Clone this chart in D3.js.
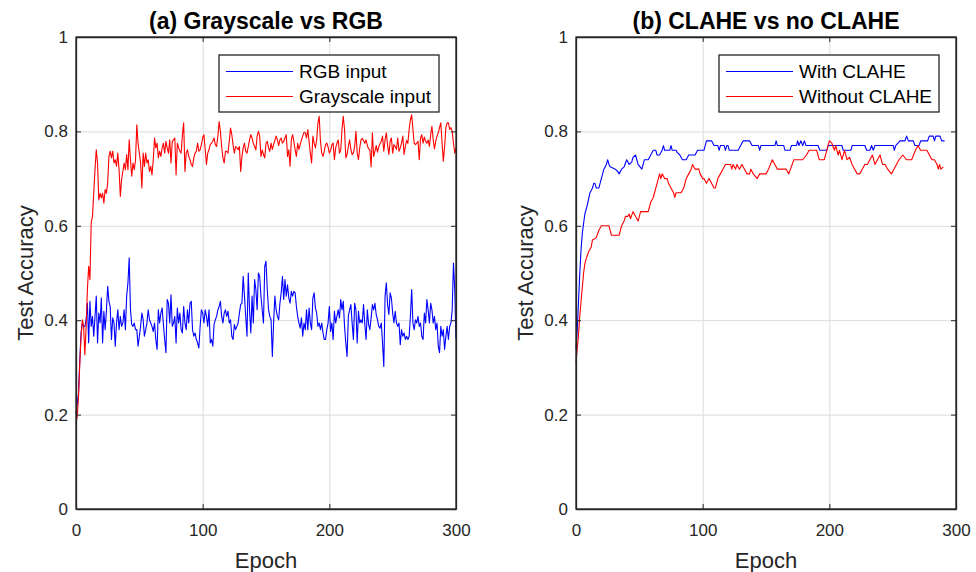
<!DOCTYPE html>
<html>
<head>
<meta charset="utf-8">
<script src="https://cdn.jsdelivr.net/npm/d3@7"></script>
<style>
  body { margin: 0; background: #fff; }
  svg text { font-family: "Liberation Sans", Arial, Helvetica, sans-serif; }
</style>
</head>
<body>
<div id="chart"></div>
<script>
// tick labels
const xTicks = [0, 100, 200, 300];
const yTicks = [0, 0.2, 0.4, 0.6, 0.8, 1];

// panel (a): test accuracy per epoch, epoch = index (0..300)
const rgbInput = [
  0.200,0.225,0.246,0.316,0.373,0.394,0.387,0.387,0.401,0.436,0.352,0.440,0.387,0.408,0.366,0.408,
  0.451,0.352,0.415,0.394,0.447,0.352,0.419,0.380,0.419,0.472,0.440,0.429,0.359,0.405,0.394,0.345,
  0.394,0.422,0.380,0.408,0.387,0.394,0.422,0.380,0.451,0.479,0.532,0.422,0.391,0.387,0.394,0.380,
  0.380,0.345,0.366,0.387,0.415,0.401,0.366,0.380,0.394,0.422,0.401,0.394,0.387,0.376,0.394,0.359,
  0.338,0.422,0.394,0.415,0.426,0.391,0.359,0.331,0.444,0.436,0.394,0.454,0.387,0.394,0.408,0.352,
  0.426,0.394,0.415,0.380,0.373,0.429,0.394,0.380,0.422,0.394,0.436,0.440,0.380,0.366,0.373,0.359,
  0.352,0.341,0.387,0.422,0.415,0.394,0.422,0.408,0.387,0.422,0.352,0.359,0.345,0.391,0.401,0.408,
  0.422,0.429,0.440,0.408,0.394,0.415,0.422,0.408,0.419,0.394,0.401,0.366,0.359,0.391,0.380,0.387,
  0.394,0.415,0.433,0.436,0.493,0.451,0.408,0.366,0.500,0.422,0.373,0.451,0.394,0.486,0.465,0.422,
  0.500,0.493,0.451,0.422,0.394,0.514,0.525,0.465,0.422,0.408,0.401,0.323,0.394,0.451,0.422,0.408,
  0.401,0.436,0.458,0.493,0.444,0.486,0.451,0.475,0.447,0.436,0.461,0.451,0.461,0.458,0.429,0.408,
  0.394,0.383,0.405,0.366,0.394,0.380,0.422,0.380,0.426,0.394,0.380,0.447,0.458,0.426,0.415,0.387,
  0.394,0.380,0.394,0.373,0.359,0.359,0.380,0.394,0.429,0.376,0.394,0.359,0.419,0.394,0.408,0.422,
  0.405,0.444,0.422,0.440,0.387,0.352,0.323,0.408,0.422,0.433,0.394,0.359,0.436,0.422,0.352,0.419,
  0.394,0.401,0.394,0.433,0.391,0.359,0.422,0.391,0.380,0.405,0.433,0.422,0.436,0.412,0.401,0.387,
  0.383,0.394,0.352,0.302,0.451,0.479,0.433,0.412,0.458,0.447,0.415,0.394,0.419,0.394,0.387,0.394,
  0.348,0.380,0.366,0.373,0.359,0.366,0.359,0.366,0.408,0.465,0.394,0.380,0.401,0.394,0.408,0.387,
  0.394,0.366,0.359,0.415,0.394,0.444,0.422,0.394,0.436,0.422,0.394,0.408,0.380,0.394,0.345,0.331,
  0.387,0.366,0.380,0.338,0.366,0.387,0.359,0.387,0.394,0.422,0.521,0.465,0.360
];
const grayscaleInput = [
  0.182,0.196,0.239,0.309,0.366,0.401,0.387,0.327,0.387,0.465,0.514,0.486,0.606,0.620,0.669,0.719,
  0.761,0.733,0.655,0.669,0.659,0.669,0.648,0.677,0.669,0.691,0.747,0.758,0.744,0.758,0.733,0.740,
  0.726,0.754,0.719,0.662,0.698,0.715,0.733,0.719,0.751,0.719,0.782,0.740,0.705,0.733,0.719,0.740,
  0.814,0.775,0.754,0.733,0.680,0.754,0.726,0.754,0.733,0.740,0.715,0.726,0.708,0.740,0.786,0.765,
  0.775,0.744,0.758,0.747,0.765,0.775,0.754,0.779,0.765,0.754,0.782,0.733,0.779,0.782,0.786,0.708,
  0.775,0.765,0.758,0.754,0.793,0.818,0.715,0.754,0.761,0.747,0.740,0.730,0.726,0.744,0.754,0.758,
  0.775,0.758,0.761,0.772,0.786,0.793,0.761,0.730,0.754,0.761,0.772,0.775,0.779,0.786,0.772,0.768,
  0.790,0.821,0.800,0.768,0.744,0.733,0.758,0.758,0.754,0.779,0.807,0.793,0.772,0.754,0.768,0.765,
  0.761,0.768,0.715,0.747,0.765,0.775,0.758,0.754,0.768,0.782,0.793,0.786,0.775,0.768,0.761,0.790,
  0.800,0.790,0.747,0.761,0.751,0.744,0.775,0.779,0.765,0.758,0.775,0.762,0.772,0.781,0.790,0.782,
  0.770,0.782,0.786,0.775,0.779,0.786,0.793,0.747,0.761,0.726,0.782,0.793,0.779,0.761,0.747,0.775,
  0.762,0.772,0.782,0.790,0.798,0.797,0.786,0.804,0.779,0.754,0.733,0.790,0.775,0.765,0.782,0.818,
  0.832,0.779,0.754,0.747,0.758,0.772,0.775,0.767,0.754,0.760,0.772,0.775,0.740,0.765,0.775,0.782,
  0.754,0.760,0.804,0.832,0.804,0.744,0.751,0.768,0.782,0.762,0.751,0.754,0.768,0.800,0.754,0.740,
  0.765,0.782,0.785,0.781,0.775,0.782,0.770,0.763,0.761,0.725,0.797,0.747,0.758,0.770,0.756,0.767,
  0.774,0.779,0.790,0.758,0.782,0.797,0.770,0.751,0.779,0.786,0.754,0.772,0.768,0.762,0.786,0.758,
  0.765,0.775,0.790,0.751,0.768,0.781,0.775,0.804,0.825,0.835,0.804,0.775,0.772,0.775,0.779,0.740,
  0.786,0.793,0.775,0.788,0.779,0.775,0.782,0.768,0.793,0.811,0.782,0.763,0.779,0.790,0.797,0.808,
  0.818,0.775,0.737,0.767,0.808,0.818,0.818,0.804,0.808,0.800,0.775,0.754,0.765
];

// panel (b): [epoch, accuracy]
const withClahe = [
  [0,0.34],[1,0.38],[2,0.44],[3,0.50],[4,0.55],[5,0.585],[7,0.625],[9,0.645],[11,0.67],[12,0.675],
  [13,0.68],[14,0.69],[15,0.69],[16,0.68],[18,0.68],[19,0.69],[20,0.70],[22,0.72],[24,0.73],[25,0.74],
  [26,0.73],[27,0.725],[31,0.72],[33,0.715],[34,0.71],[36,0.72],[38,0.725],[40,0.74],[42,0.73],[44,0.735],
  [45,0.745],[47,0.75],[49,0.73],[52,0.72],[54,0.74],[57,0.74],[59,0.75],[61,0.76],[63,0.76],[64,0.75],
  [66,0.75],[68,0.76],[69,0.77],[70,0.76],[74,0.76],[75,0.77],[76,0.76],[79,0.76],[80,0.755],[82,0.75],
  [84,0.74],[87,0.74],[89,0.75],[94,0.75],[96,0.76],[101,0.76],[103,0.78],[107,0.78],[109,0.77],[112,0.77],
  [113,0.76],[114,0.77],[117,0.77],[118,0.76],[119,0.77],[120,0.77],[121,0.76],[128,0.76],[130,0.77],[132,0.78],
  [137,0.78],[139,0.77],[144,0.77],[145,0.76],[146,0.77],[157,0.77],[158,0.78],[159,0.77],[164,0.77],[165,0.76],
  [169,0.76],[170,0.77],[174,0.77],[175,0.78],[176,0.77],[177.5,0.78],[179,0.77],[180.3,0.78],[181.6,0.77],[191,0.77],
  [192.5,0.76],[198,0.76],[199,0.77],[210,0.77],[211,0.76],[217,0.76],[218,0.77],[228,0.77],[229.5,0.76],[232,0.76],
  [233.4,0.77],[234.7,0.76],[236,0.77],[250.5,0.77],[251.3,0.76],[252.4,0.77],[255.8,0.78],[259.7,0.78],[261,0.79],[262.4,0.78],
  [266.3,0.78],[267.6,0.77],[270.8,0.77],[272.1,0.78],[277.6,0.78],[278.9,0.79],[282,0.79],[283,0.78],[284,0.79],[287.4,0.79],
  [288.7,0.78],[291,0.78]
];
const withoutClahe = [
  [0,0.31],[1,0.34],[2,0.37],[3,0.41],[4,0.44],[5,0.47],[6,0.50],[7,0.52],[8,0.53],[10,0.545],
  [12,0.555],[13,0.57],[16,0.575],[18,0.59],[20,0.60],[26,0.60],[28,0.58],[34,0.58],[36,0.60],[38,0.61],
  [39,0.62],[41,0.62],[42,0.625],[43,0.615],[45,0.63],[47,0.62],[49,0.61],[51,0.63],[57,0.63],[59,0.65],
  [61,0.66],[62,0.67],[64,0.69],[66,0.71],[67,0.70],[68,0.71],[70,0.70],[72,0.70],[73,0.69],[75,0.68],
  [77,0.67],[78,0.66],[79,0.67],[83,0.67],[85,0.68],[87,0.70],[89,0.71],[91,0.72],[92,0.73],[94,0.72],
  [97,0.72],[98,0.71],[100,0.70],[101,0.70],[103,0.69],[105,0.70],[107,0.69],[109,0.68],[110,0.68],[112,0.70],
  [114,0.71],[116,0.72],[118,0.73],[120,0.73],[122,0.73],[123,0.72],[124,0.73],[126,0.72],[127,0.73],[129,0.72],
  [131,0.73],[133,0.72],[135,0.71],[137,0.71],[138,0.72],[140,0.71],[143,0.70],[145,0.71],[147,0.71],[150,0.71],
  [152,0.72],[155,0.74],[157,0.73],[159,0.72],[166,0.72],[168,0.71],[172,0.74],[179,0.74],[182,0.75],[184,0.76],
  [186,0.76],[190,0.76],[192,0.74],[196,0.74],[198,0.76],[200,0.78],[202,0.775],[204,0.76],[205,0.77],[207,0.75],
  [208,0.76],[210,0.74],[212,0.76],[214,0.74],[216,0.745],[218,0.73],[220,0.72],[222,0.71],[224,0.71],[226,0.72],
  [228,0.73],[230,0.73],[232,0.74],[234,0.75],[236,0.73],[238,0.74],[240,0.75],[242,0.73],[244,0.73],[246,0.72],
  [249,0.71],[251,0.72],[253,0.73],[255,0.74],[258,0.75],[261,0.74],[265,0.74],[268,0.76],[270,0.77],[272,0.76],
  [277,0.76],[279,0.75],[281,0.74],[283,0.74],[285,0.73],[286,0.72],[287,0.73],[288,0.72],[290,0.725]
];

const svg = d3.select('#chart')
              .append('svg')
              .attr('width', 976)
              .attr('height', 572);

const boxW = 380, boxH = 472;

function drawPanel(left, title, series, legendNames) {
  let g = svg.append('g')
             .attr('transform', 'translate(' + left + ',' + 37 + ')');

  let x = d3.scaleLinear().domain([0, 300]).range([0, boxW]);
  let y = d3.scaleLinear().domain([0, 1]).range([boxH, 0]);

  // grid
  g.append('g')
   .attr('transform', 'translate(0,' + boxH + ')')
   .call(d3.axisBottom(x).tickValues(xTicks).tickSize(-boxH).tickFormat(''))
   .call(a => a.select('.domain').remove())
   .selectAll('line').attr('stroke', '#dcdcdc');
  g.append('g')
   .call(d3.axisLeft(y).tickValues(yTicks).tickSize(-boxW).tickFormat(''))
   .call(a => a.select('.domain').remove())
   .selectAll('line').attr('stroke', '#dcdcdc');

  // lines
  let line = d3.line()
               .x(d => x(d[0]))
               .y(d => y(d[1]));
  series.forEach(s => {
    g.append('path')
     .datum(s.values)
     .attr('fill', 'none')
     .attr('stroke', s.color)
     .attr('stroke-width', 1.1)
     .attr('stroke-linejoin', 'round')
     .attr('d', line);
  });

  // axes, MATLAB style inward ticks
  let xb = g.append('g')
            .attr('transform', 'translate(0,' + boxH + ')')
            .call(d3.axisBottom(x).tickValues(xTicks).tickSizeInner(-5).tickSizeOuter(0).tickPadding(15).tickFormat(d => d));
  let yl = g.append('g')
            .call(d3.axisLeft(y).tickValues(yTicks).tickSizeInner(-5).tickSizeOuter(0).tickPadding(8).tickFormat(d => d));
  g.append('g')
   .call(d3.axisTop(x).tickValues(xTicks).tickSizeInner(-5).tickSizeOuter(0).tickFormat(''));
  g.append('g')
   .attr('transform', 'translate(' + boxW + ',0)')
   .call(d3.axisRight(y).tickValues(yTicks).tickSizeInner(-5).tickSizeOuter(0).tickFormat(''));
  g.selectAll('.domain').attr('stroke', '#262626').attr('stroke-width', 1.3);
  g.selectAll('.tick line').filter(function () { return d3.select(this).attr('stroke') !== '#dcdcdc'; })
   .attr('stroke', '#262626');
  [xb, yl].forEach(a => a.selectAll('text')
                          .attr('font-size', 17)
                          .attr('fill', '#262626'));

  g.append('rect')
   .attr('width', boxW)
   .attr('height', boxH)
   .attr('fill', 'none')
   .attr('stroke', '#262626')
   .attr('stroke-width', 1.3);

  // labels
  g.append('text')
   .attr('x', boxW / 2)
   .attr('y', -8)
   .attr('text-anchor', 'middle')
   .attr('font-size', 23)
   .attr('font-weight', 'bold')
   .attr('fill', '#000')
   .text(title);
  g.append('text')
   .attr('x', boxW / 2)
   .attr('y', boxH + 59)
   .attr('text-anchor', 'middle')
   .attr('font-size', 22)
   .attr('fill', '#262626')
   .text('Epoch');
  g.append('text')
   .attr('transform', 'translate(' + (-43) + ',' + (boxH / 2) + ') rotate(-90)')
   .attr('text-anchor', 'middle')
   .attr('font-size', 22)
   .attr('fill', '#262626')
   .text('Test Accuracy');

  // legend
  let lg = g.append('g').attr('transform', 'translate(' + (boxW - 237) + ',' + 18 + ')');
  lg.append('rect')
    .attr('width', 220)
    .attr('height', 57)
    .attr('fill', '#fff')
    .attr('stroke', '#262626')
    .attr('stroke-width', 1.3);
  series.forEach((s, i) => {
    lg.append('line')
      .attr('x1', 7).attr('x2', 74)
      .attr('y1', 16.5 + i * 25).attr('y2', 16.5 + i * 25)
      .attr('stroke', s.color)
      .attr('stroke-width', 1.1);
    lg.append('text')
      .attr('x', 80)
      .attr('y', 16.5 + i * 25)
      .attr('dy', '0.35em')
      .attr('font-size', 19)
      .attr('fill', '#000')
      .text(legendNames[i]);
  });
}

drawPanel(76, '(a) Grayscale vs RGB',
  [{ values: rgbInput.map((v, i) => [i, v]), color: '#0000ff' },
   { values: grayscaleInput.map((v, i) => [i, v]), color: '#ff0000' }],
  ['RGB input', 'Grayscale input']);

drawPanel(576, '(b) CLAHE vs no CLAHE',
  [{ values: withClahe, color: '#0000ff' },
   { values: withoutClahe, color: '#ff0000' }],
  ['With CLAHE', 'Without CLAHE']);
</script>
</body>
</html>
